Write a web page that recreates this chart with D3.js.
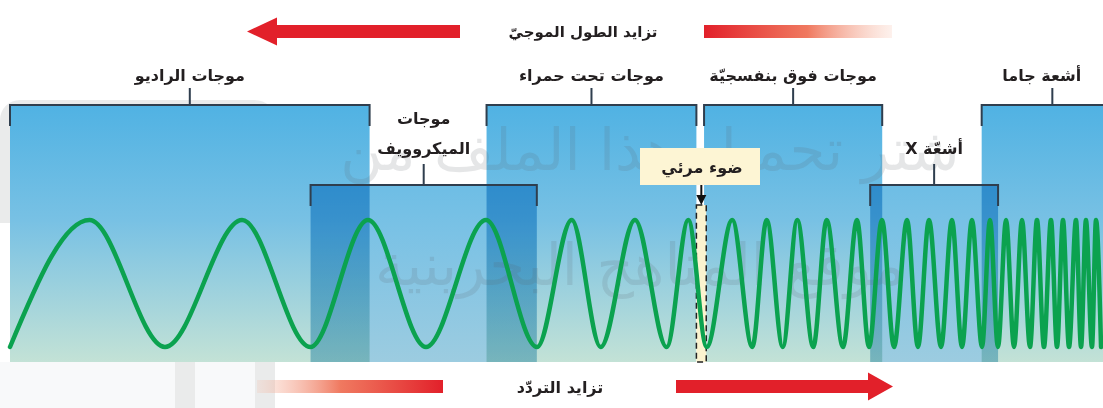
<!DOCTYPE html>
<html>
<head>
<meta charset="utf-8">
<script src="https://cdn.jsdelivr.net/npm/d3@7"></script>
<style>
  body { margin: 0; background: #fff; }
  text { font-family: "DejaVu Sans", sans-serif; fill: #231f20; }
</style>
</head>
<body>
<div id="app"></div>
<script>
// spectrum position runs 0..100 from the long-wave end to the short-wave end
const topBands = ["موجات الراديو", "موجات تحت حمراء", "موجات فوق بنفسجيّة", "أشعة جاما"];
const topStart = [0, 43.6, 63.5, 88.9];
const topEnd = [32.9, 62.8, 79.8, 100];
const topMid = [16.45, 53.2, 71.65, 94.4];

const lowBands = [["موجات", "الميكروويف"], ["أشعّة X"]];
const lowStart = [27.5, 78.7];
const lowEnd = [48.2, 90.4];

const visibleBand = [62.8, 63.7];
const visibleLabel = "ضوء مرئي";

// wave extremes: [position, level]
const wavePoints = [
  [0, -1], [7.27, 1], [14.18, -1], [21.23, 1], [27.49, -1], [32.75, 1],
  [38.06, -1], [43.55, 1], [48.22, -1], [51.39, 1], [54.04, -1], [57.18, 1],
  [60.08, -1], [62.06, 1], [63.74, -1], [66.08, 1], [67.91, -1], [69.23, 1],
  [70.70, -1], [72.03, 1], [73.49, -1], [74.72, 1], [76.21, -1], [77.49, 1],
  [78.59, -1], [79.78, 1], [80.88, -1], [82.07, 1], [83.07, -1], [84.08, 1],
  [85.18, -1], [86.18, 1], [87.10, -1], [88.01, 1], [88.93, -1], [89.66, 1],
  [90.39, -1], [91.13, 1], [91.86, -1], [92.59, 1], [93.32, -1], [93.96, 1],
  [94.60, -1], [95.24, 1], [95.79, -1], [96.34, 1], [96.89, -1], [97.53, 1],
  [97.99, -1], [98.44, 1], [98.99, -1], [99.36, 1], [99.82, -1]
];

const titleTop = "تزايد الطول الموجيّ";
const titleBottom = "تزايد التردّد";
const watermark = ["شتر تحميل هذا الملف من", "موقع المناهج البحرينية"];

const w = 1103, h = 408;
const bandTop = 105, lowTop = 185, bandBottom = 362;

const x = d3.scaleLinear().domain([0, 100]).range([10, 1103]);
const y = d3.scaleLinear().domain([-1, 1]).range([347, 220]);

const svg = d3.select("#app").append("svg")
  .attr("width", w).attr("height", h);

const defs = svg.append("defs");

function vGrad(id, stops) {
  const g = defs.append("linearGradient").attr("id", id)
    .attr("gradientUnits", "userSpaceOnUse")
    .attr("x1", 0).attr("x2", 0).attr("y1", bandTop).attr("y2", bandBottom);
  stops.forEach(s => g.append("stop").attr("offset", s[0]).attr("stop-color", s[1]));
}
function hGrad(id, x1, x2, stops) {
  const g = defs.append("linearGradient").attr("id", id)
    .attr("gradientUnits", "userSpaceOnUse")
    .attr("x1", x1).attr("x2", x2).attr("y1", 0).attr("y2", 0);
  stops.forEach(s => g.append("stop").attr("offset", s[0])
    .attr("stop-color", s[1]).attr("stop-opacity", s[2]));
}
vGrad("bandGrad", [[0, "#50b2e3"], [0.45, "#78c1e4"], [1, "#c3e2d6"]]);
vGrad("lowGrad", [[0, "#58b6e5"], [0.5, "#7bc2e5"], [1, "#9ccce0"]]);
hGrad("fadeTop", 704, 892, [[0, "#e2202a", 1], [0.55, "#ee6a4e", 0.9], [1, "#f6b9a2", 0.2]]);
hGrad("fadeBottom", 257, 443, [[0, "#f6b9a2", 0.2], [0.45, "#ee6a4e", 0.9], [1, "#e2202a", 1]]);

// faint watermark logo on the left
const wm = svg.append("g").attr("opacity", 0.11).attr("fill", "#4a4f55");
wm.append("rect").attr("x", 0).attr("y", 362).attr("width", 275).attr("height", 46)
  .attr("fill", "#7f95ad").attr("opacity", 0.5);
wm.append("path").attr("fill-rule", "evenodd")
  .attr("d", "M38,100 h217 a20,20 0 0 1 20,20 v288 h-100 v-185 h-175 v-103 a20,20 0 0 1 20,-20 z" +
             "M58,120 v80 h137 v208 h60 v-288 z");
wm.append("rect").attr("x", 100).attr("y", 143).attr("width", 115).attr("height", 34).attr("rx", 17);

// top bands
svg.selectAll("rect.band")
  .data(topBands)
  .enter().append("rect")
  .attr("class", "band")
  .attr("x", (d, i) => x(topStart[i]))
  .attr("y", bandTop)
  .attr("width", (d, i) => x(topEnd[i]) - x(topStart[i]))
  .attr("height", bandBottom - bandTop)
  .attr("fill", "url(#bandGrad)");

// lower bands (overlap shows darker)
svg.selectAll("rect.low")
  .data(lowBands)
  .enter().append("rect")
  .attr("class", "low")
  .attr("x", (d, i) => x(lowStart[i]))
  .attr("y", lowTop)
  .attr("width", (d, i) => x(lowEnd[i]) - x(lowStart[i]))
  .attr("height", bandBottom - lowTop)
  .attr("fill", "url(#lowGrad)")
  .style("mix-blend-mode", "multiply");

// watermark text
svg.selectAll("text.wm")
  .data(watermark)
  .enter().append("text")
  .attr("class", "wm")
  .attr("direction", "rtl")
  .attr("x", (d, i) => i ? 640 : 650)
  .attr("y", (d, i) => i ? 285 : 170)
  .attr("text-anchor", "middle")
  .attr("font-size", 58)
  .style("fill", "#5a6068")
  .attr("opacity", 0.15)
  .text(d => d);

// visible strip
svg.append("rect")
  .attr("x", x(visibleBand[0])).attr("y", 205)
  .attr("width", x(visibleBand[1]) - x(visibleBand[0]))
  .attr("height", bandBottom - 205)
  .attr("fill", "#fbf3cf")
  .attr("stroke", "#222").attr("stroke-width", 1.5)
  .attr("stroke-dasharray", "6,4");

// the wave
const line = d3.line()
  .x(d => x(d[0]))
  .y(d => y(d[1]))
  .curve(d3.curveMonotoneX);

svg.append("path")
  .datum(wavePoints)
  .attr("d", line)
  .attr("fill", "none")
  .attr("stroke", "#0ba24f")
  .attr("stroke-width", 4.5)
  .attr("stroke-linecap", "round");

// brackets
const bracketColor = "#2f3e4e";
function bracket(x0, x1, yy, stemTop) {
  const xm = (x0 + x1) / 2;
  svg.append("path")
    .attr("d", `M${x0},${yy + 21} V${yy} H${x1} V${yy + 21} M${xm},${yy} V${stemTop}`)
    .attr("fill", "none")
    .attr("stroke", bracketColor)
    .attr("stroke-width", 2);
}
topBands.forEach((d, i) => bracket(x(topStart[i]), x(topEnd[i]) + (i === 3 ? 20 : 0), bandTop, 88));
lowBands.forEach((d, i) => bracket(x(lowStart[i]), x(lowEnd[i]), lowTop, 164));

svg.selectAll("text.top")
  .data(topBands)
  .enter().append("text")
  .attr("class", "top")
  .attr("direction", "rtl")
  .attr("x", (d, i) => x(topMid[i]))
  .attr("y", 81)
  .attr("text-anchor", "middle")
  .attr("font-size", 16)
  .attr("font-weight", "bold")
  .text(d => d);

lowBands.forEach((lines, i) => {
  const cx = (x(lowStart[i]) + x(lowEnd[i])) / 2;
  lines.forEach((t, j) => {
    svg.append("text")
      .attr("direction", "rtl")
      .attr("x", cx)
      .attr("y", lines.length > 1 ? 124 + j * 30 : 154)
      .attr("text-anchor", "middle")
      .attr("font-size", 16)
      .attr("font-weight", "bold")
      .text(t);
  });
});

// visible light label
const vx = (x(visibleBand[0]) + x(visibleBand[1])) / 2;
svg.append("rect")
  .attr("x", 640).attr("y", 148).attr("width", 120).attr("height", 37)
  .attr("fill", "#fdf5d4");
svg.append("text")
  .attr("direction", "rtl")
  .attr("x", 702).attr("y", 173)
  .attr("text-anchor", "middle")
  .attr("font-size", 16).attr("font-weight", "bold")
  .text(visibleLabel);
svg.append("line")
  .attr("x1", vx).attr("x2", vx).attr("y1", 185).attr("y2", 196)
  .attr("stroke", "#111").attr("stroke-width", 2);
svg.append("path")
  .attr("d", `M${vx - 5},195 L${vx + 5},195 L${vx},205 Z`)
  .attr("fill", "#111");

// arrows and titles
const red = "#e2202a";
svg.append("path")
  .attr("d", "M247,31.5 L277,17.5 L277,25 L460,25 L460,38 L277,38 L277,45.5 Z")
  .attr("fill", red);
svg.append("rect").attr("x", 704).attr("y", 25).attr("width", 188).attr("height", 13)
  .attr("fill", "url(#fadeTop)");
svg.append("text")
  .attr("direction", "rtl")
  .attr("x", 583).attr("y", 37)
  .attr("text-anchor", "middle")
  .attr("font-size", 15).attr("font-weight", "bold")
  .text(titleTop);

svg.append("rect").attr("x", 257).attr("y", 380).attr("width", 186).attr("height", 13)
  .attr("fill", "url(#fadeBottom)");
svg.append("path")
  .attr("d", "M893,386.5 L868,372.5 L868,380 L676,380 L676,393 L868,393 L868,400.5 Z")
  .attr("fill", red);
svg.append("text")
  .attr("direction", "rtl")
  .attr("x", 560).attr("y", 393)
  .attr("text-anchor", "middle")
  .attr("font-size", 16).attr("font-weight", "bold")
  .text(titleBottom);
</script>
</body>
</html>
